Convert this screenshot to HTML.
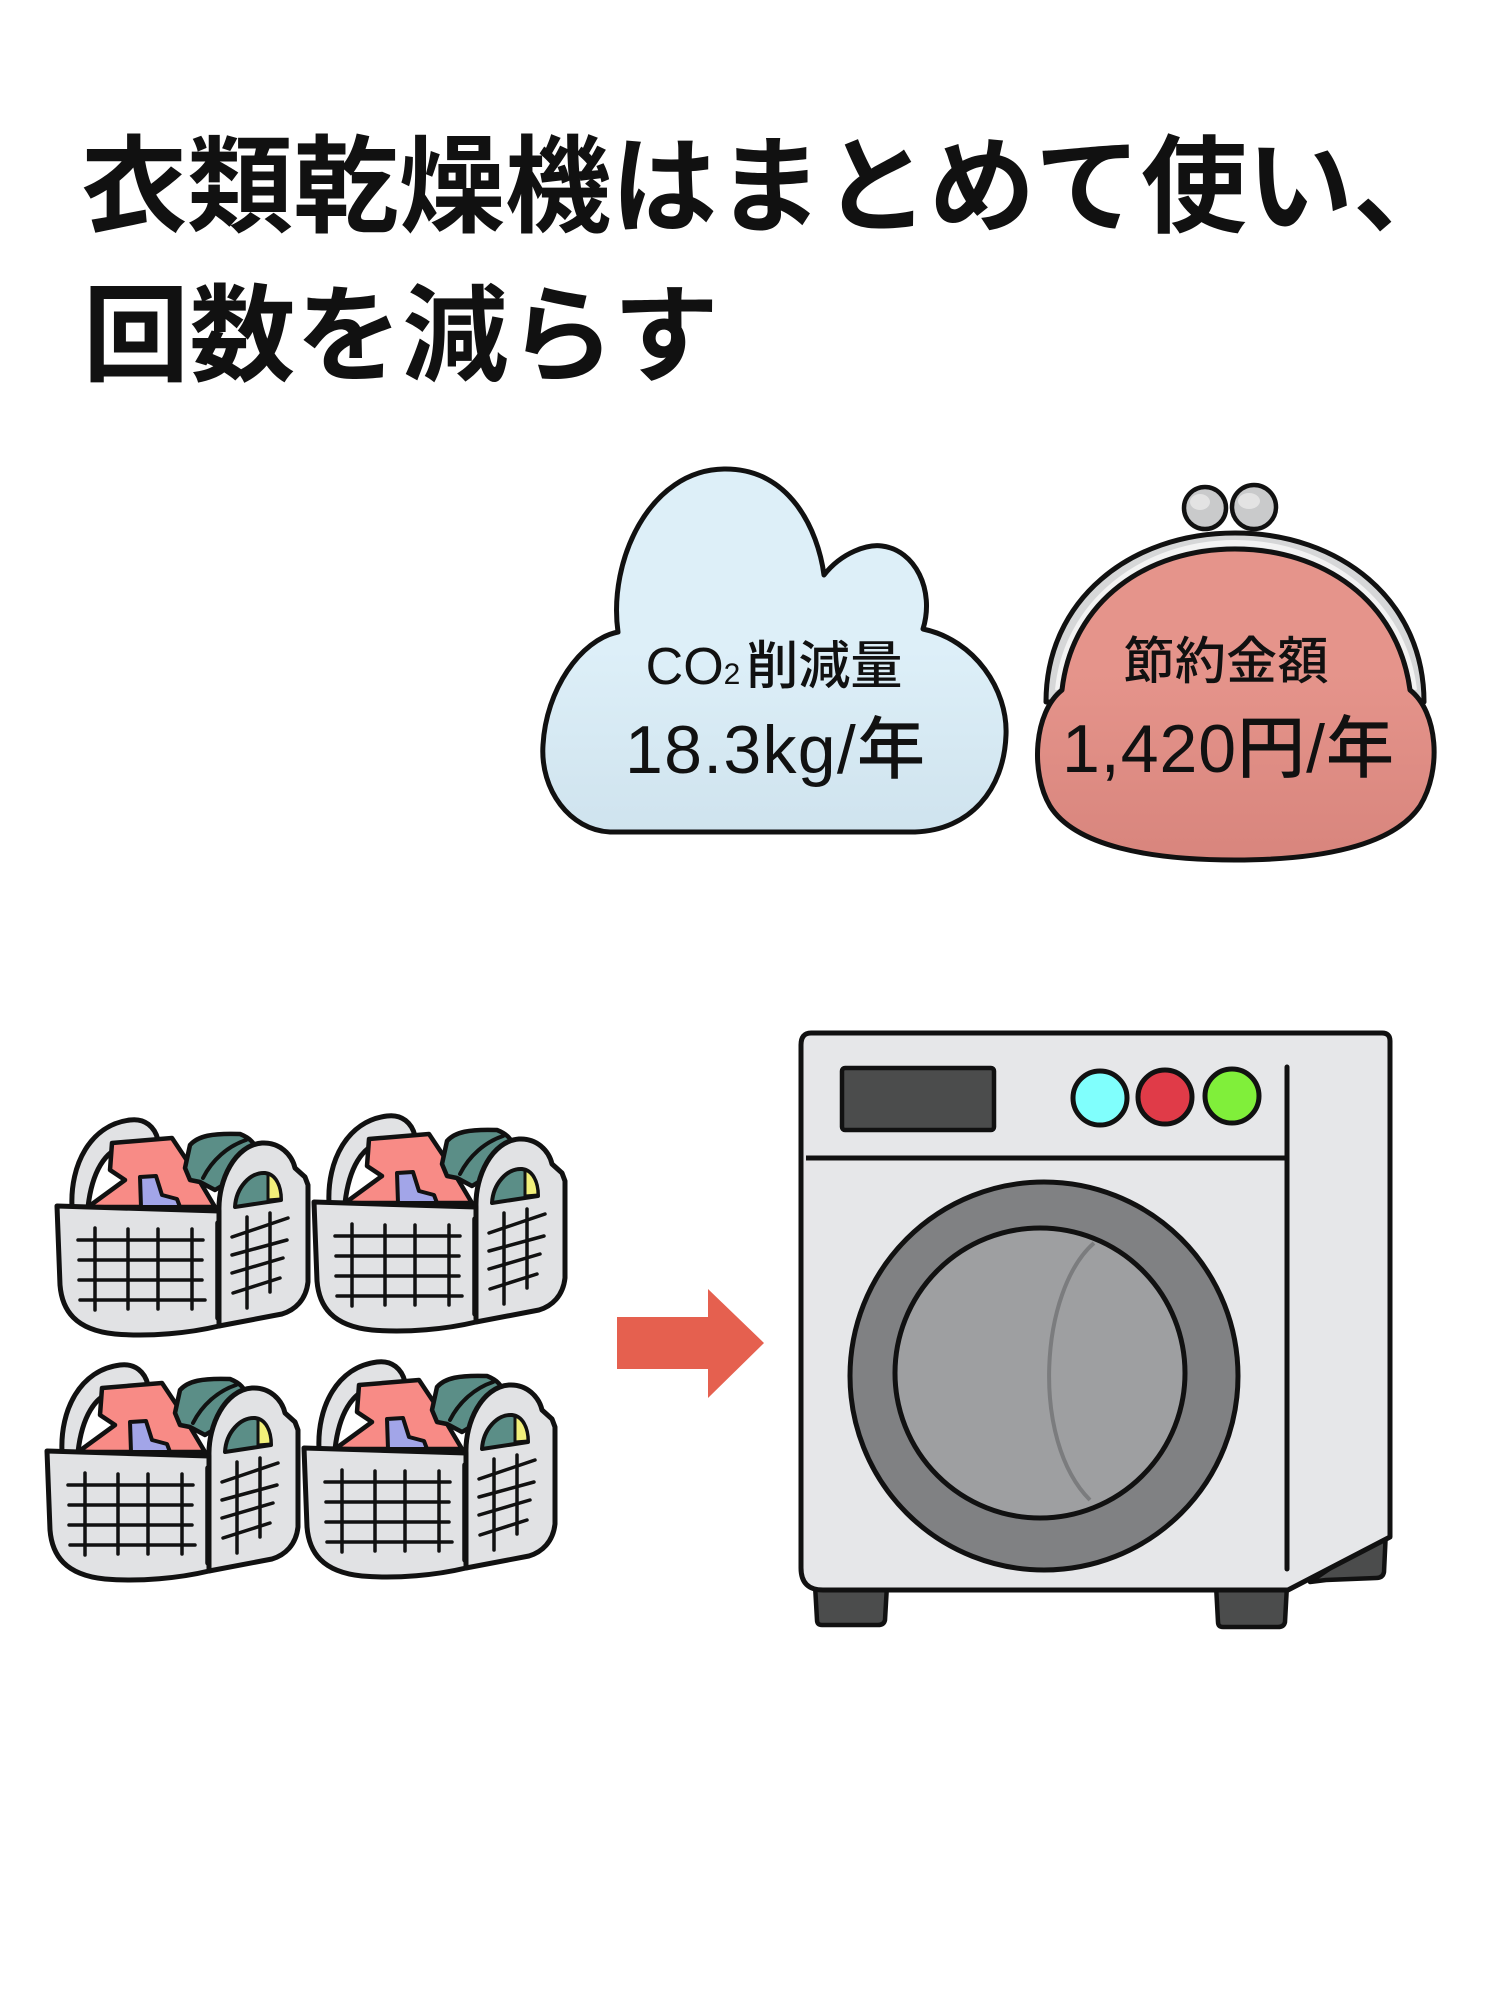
<!DOCTYPE html>
<html><head><meta charset="utf-8">
<style>
html,body{margin:0;padding:0;background:#fff;}
svg{display:block;}
.t{font-family:"Liberation Sans","Noto Sans CJK JP",sans-serif;fill:#111;}
</style></head><body>
<svg width="1500" height="1999" viewBox="0 0 1500 1999" xmlns="http://www.w3.org/2000/svg">
<defs>
<linearGradient id="cg" x1="0" y1="0" x2="0" y2="1">
<stop offset="0.5" stop-color="#DDEFF8"/><stop offset="1" stop-color="#CFE3EE"/></linearGradient>
<linearGradient id="pg" x1="0" y1="0" x2="0" y2="1">
<stop offset="0.4" stop-color="#E5948B"/><stop offset="1" stop-color="#D8857D"/></linearGradient>
<g id="basket" stroke="#111" stroke-linejoin="round" stroke-linecap="round">
  <path d="M72,1207 C70,1165 90,1125 130,1120 C145,1118 155,1127 158,1140 L125,1146 C105,1150 92,1172 88,1207 Z" fill="#E1E2E4" stroke-width="5"/>
  <path d="M88,1207 L125,1180 L110,1170 L112,1143 L172,1138 L190,1165 L215,1207 Z" fill="#F88B86" stroke-width="4.5"/>
  <path d="M185,1168 L190,1145 C198,1136 212,1133 240,1134 C250,1138 256,1144 255,1150 L240,1175 L215,1190 L200,1182 L190,1180 Z" fill="#5B8E87" stroke-width="4.5"/>
  <path d="M203,1178 C212,1160 228,1146 246,1140" fill="none" stroke-width="4"/>
  <path d="M141,1207 L140,1177 L156,1176 L162,1195 L177,1199 L180,1207 Z" fill="#A2A5E8" stroke-width="4"/>
  <path d="M57,1206 L219,1211 L219,1326 C190,1333 150,1337 115,1334 C75,1330 62,1310 60,1285 Z" fill="#E1E2E4" stroke-width="5"/>
  <path d="M219,1211 C218,1180 235,1145 262,1143 C280,1142 292,1155 295,1168 L305,1177 L308,1185 L308,1282 C306,1300 295,1310 282,1314 L219,1326 Z" fill="#E1E2E4" stroke-width="5"/>
  <path d="M235,1207 C236,1188 250,1172 265,1173 C275,1174 281,1185 281,1200 Z" fill="#5B8E87" stroke-width="4"/>
  <path d="M268,1174 C276,1176 281,1187 281,1199 L268,1200 Z" fill="#F2F07A" stroke-width="3"/>
  <g stroke-width="3.5" fill="none">
    <path d="M78,1240 L203,1240 M79,1260 L202,1260 M79,1280 L202,1280 M80,1300 L205,1300"/>
    <path d="M95,1228 L95,1310 M128,1229 L128,1309 M158,1229 L158,1309 M192,1229 L192,1309"/>
    <path d="M232,1237 L288,1218 M232,1255 L287,1240 M232,1273 L283,1258 M233,1293 L280,1278"/>
    <path d="M247,1217 L247,1308 M270,1213 L270,1292"/>
  </g>
  <path d="M218,1223 L218,1318" stroke-width="5.5"/>
</g>
</defs>
<rect width="1500" height="1999" fill="#fff"/>

<text class="t" x="81" y="224" font-size="106" font-weight="700" textLength="1378" lengthAdjust="spacing">衣類乾燥機はまとめて使い、</text>
<text class="t" x="83" y="373" font-size="106" font-weight="700" textLength="636" lengthAdjust="spacing">回数を減らす</text>

<path d="M618,632 C608,560 650,470 724,469 C790,468 818,530 824,575 C842,552 868,544 882,546 C915,550 935,590 923,629 C975,640 1008,690 1006,735 C1004,790 970,830 915,832 L610,832 C570,830 540,790 543,745 C546,690 580,640 618,632 Z" fill="url(#cg)" stroke="#111" stroke-width="5" stroke-linejoin="round"/>
<text class="t" x="774" y="684" text-anchor="middle" font-size="52" font-weight="500">CO<tspan font-size="30">2</tspan><tspan dx="6">削減量</tspan></text>
<text class="t" x="775" y="773" text-anchor="middle" font-size="68" font-weight="500" textLength="300" lengthAdjust="spacing">18.3kg/年</text>

<circle cx="1205" cy="508" r="21" fill="#C9CACB" stroke="#111" stroke-width="4.5"/>
<ellipse cx="1200" cy="502" rx="10" ry="8" fill="#E3E3E3"/>
<circle cx="1254" cy="507" r="22" fill="#C9CACB" stroke="#111" stroke-width="4.5"/>
<ellipse cx="1249" cy="501" rx="11" ry="8" fill="#E3E3E3"/>
<path d="M1046,702 C1046,600 1130,533 1235,533 C1340,533 1424,600 1424,702 Z" fill="#D6D7D8" stroke="#111" stroke-width="5" stroke-linejoin="round"/>
<path d="M1058,690 C1066,604 1142,543 1235,543 C1328,543 1404,604 1414,690" fill="none" stroke="#F3F3F3" stroke-width="6"/>
<path d="M1062,690 C1072,600 1148,549 1235,549 C1322,549 1398,600 1410,690 C1438,712 1442,770 1420,806 C1393,846 1320,860 1235,860 C1150,860 1075,846 1050,806 C1030,772 1034,712 1062,690 Z" fill="url(#pg)" stroke="#111" stroke-width="5" stroke-linejoin="round"/>
<text class="t" x="1226" y="679" text-anchor="middle" font-size="51" font-weight="500" textLength="205" lengthAdjust="spacing">節約金額</text>
<text class="t" x="1228" y="772" text-anchor="middle" font-size="68" font-weight="500" textLength="332" lengthAdjust="spacing">1,420円/年</text>

<use href="#basket"/>
<use href="#basket" transform="translate(257,-4)"/>
<use href="#basket" transform="translate(-10,245)"/>
<use href="#basket" transform="translate(247,242)"/>

<polygon points="617,1317 708,1317 708,1289 764,1343 708,1398 708,1369 617,1369" fill="#E5604F"/>

<path d="M815,1585 L887,1585 L885,1620 Q884,1625 878,1625 L822,1625 Q817,1625 817,1620 Z" fill="#4B4C4C" stroke="#111" stroke-width="4.5"/>
<path d="M1216,1585 L1287,1585 L1285,1622 Q1284,1627 1278,1627 L1223,1627 Q1218,1627 1218,1622 Z" fill="#4B4C4C" stroke="#111" stroke-width="4.5"/>
<path d="M1310,1582 L1386,1530 L1384,1572 Q1383,1578 1376,1578 L1326,1580 Z" fill="#4B4C4C" stroke="#111" stroke-width="4.5" stroke-linejoin="round"/>
<path d="M811,1033 L1382,1033 Q1390,1033 1390,1041 L1390,1537 L1288,1590 L823,1590 Q801,1590 801,1568 L801,1045 Q801,1033 811,1033 Z" fill="#E6E7E9" stroke="#111" stroke-width="5" stroke-linejoin="round"/>
<rect x="842" y="1068" width="152" height="62" rx="3" fill="#4B4C4C" stroke="#111" stroke-width="4.5"/>
<circle cx="1100" cy="1098" r="27" fill="#80FFFD" stroke="#111" stroke-width="5"/>
<circle cx="1165" cy="1097" r="27" fill="#E03B48" stroke="#111" stroke-width="5"/>
<circle cx="1232" cy="1096" r="27" fill="#80EF3A" stroke="#111" stroke-width="5"/>
<line x1="806" y1="1158" x2="1287" y2="1158" stroke="#111" stroke-width="5"/>
<line x1="1287" y1="1067" x2="1287" y2="1569" stroke="#111" stroke-width="5" stroke-linecap="round"/>
<circle cx="1044" cy="1376" r="194" fill="#808183" stroke="#111" stroke-width="5"/>
<circle cx="1040" cy="1373" r="145" fill="#9E9FA1" stroke="#111" stroke-width="5"/>
<path d="M1094,1243 C1040,1290 1030,1440 1090,1500" fill="none" stroke="#7B7C7E" stroke-width="4"/>
</svg>
</body></html>
